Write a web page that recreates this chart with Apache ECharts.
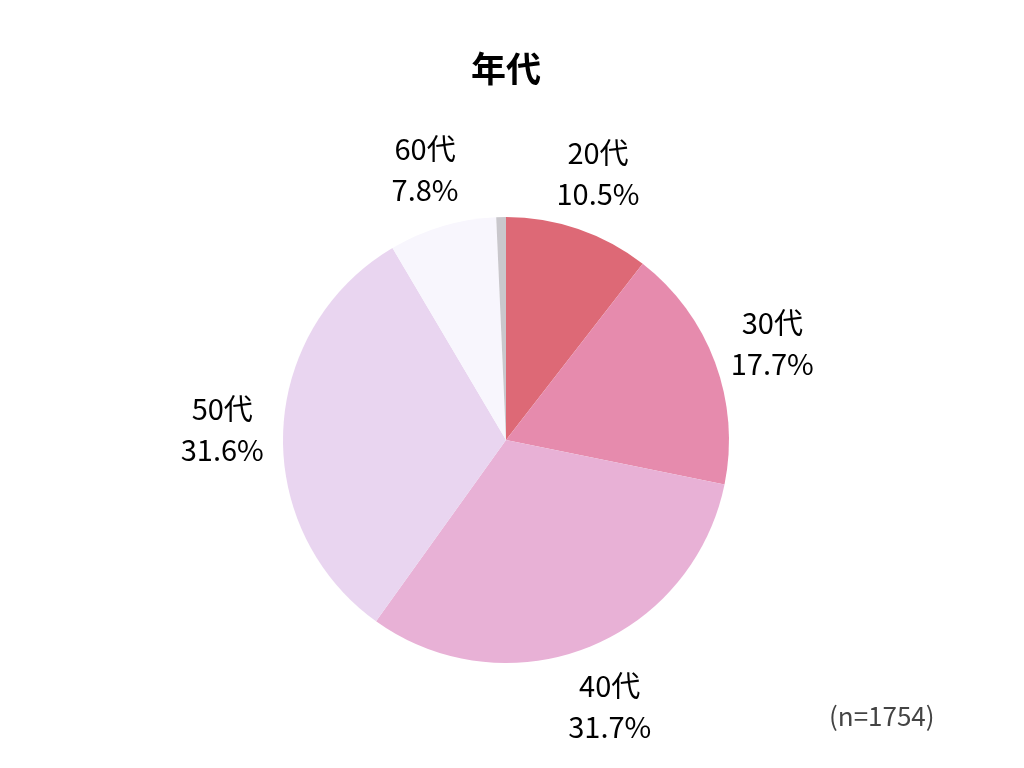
<!DOCTYPE html>
<html>
<head>
<meta charset="utf-8">
<script src="https://cdn.jsdelivr.net/npm/echarts@6/dist/echarts.min.js"></script>
<style>html,body{margin:0;padding:0;background:#fff}#c{width:1024px;height:768px}</style>
</head>
<body>
<div id="c"></div>
<script>
const categories = ['20代', '30代', '40代', '50代', '60代', '無回答'];
const values = [10.5, 17.7, 31.7, 31.6, 7.8, 0.7];
const colors = ['#dd6976', '#e68bad', '#e8b1d6', '#e9d5f0', '#f8f6fd', '#c9c7cc'];
const titleText = '年代';
const noteText = '(n=1754)';

const FONT = '"Noto Sans CJK JP", "Noto Sans", sans-serif';
const data = categories.map((c, i) => ({ name: c, value: values[i], itemStyle: { color: colors[i] } }));
const labelData = categories.map((c, i) => ({
  name: c, value: values[i],
  label: { show: i < 5 }
}));

const chart = echarts.init(document.getElementById('c'), null, { renderer: 'canvas' });
chart.setOption({
  animation: false,
  backgroundColor: '#fff',
  title: {
    text: titleText, left: 466, top: 46,
    textStyle: { fontFamily: FONT, fontSize: 35, fontWeight: 'bold', color: '#000' }
  },
  graphic: [{
    type: 'text', left: 829, top: 703,
    style: { text: noteText, font: '26px ' + FONT, fill: '#444' }
  }],
  series: [
    {
      type: 'pie', center: [506, 440], radius: 223, startAngle: 90, clockwise: true,
      silent: true, data: data,
      itemStyle: { borderWidth: 0 },
      label: { show: false }, labelLine: { show: false }
    },
    {
      type: 'pie', center: [506, 442], radius: [236, 326], startAngle: 90, clockwise: true,
      silent: true, data: labelData,
      itemStyle: { color: 'rgba(0,0,0,0)' },
      label: {
        position: 'inside', formatter: '{b}\n{c}%',
        fontFamily: FONT, fontSize: 29, color: '#000', lineHeight: 41, align: 'center'
      },
      labelLine: { show: false }
    }
  ]
});
</script>
</body>
</html>
